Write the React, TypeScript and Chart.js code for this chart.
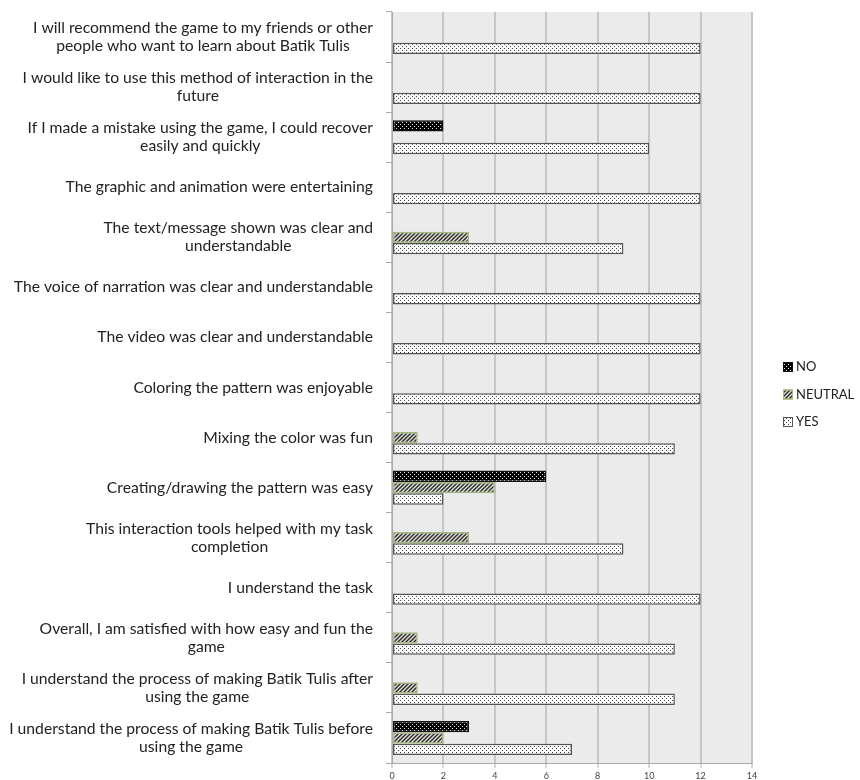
import React, { useEffect, useRef } from 'react';
import { Chart, registerables } from 'chart.js';
Chart.register(...registerables);

const categoryLines: string[][] = [
  ['I will recommend the game to my friends or other', 'people who want to learn about Batik Tulis'],
  ['I would like to use this method of interaction in the', 'future'],
  ['If I made a mistake using the game, I could recover', 'easily and quickly'],
  ['The graphic and animation were entertaining'],
  ['The text/message shown was clear and', 'understandable'],
  ['The voice of narration was clear and understandable'],
  ['The video was clear and understandable'],
  ['Coloring the pattern was enjoyable'],
  ['Mixing the color was fun'],
  ['Creating/drawing the pattern was easy'],
  ['This interaction tools helped with my task', 'completion'],
  ['I understand the task'],
  ['Overall, I am satisfied with how easy and fun the', 'game'],
  ['I understand the process of making Batik Tulis after', 'using the game'],
  ['I understand the process of making Batik Tulis before', 'using the game'],
];
const noValues = [0, 0, 2, 0, 0, 0, 0, 0, 0, 6, 0, 0, 0, 0, 3];
const neutralValues = [0, 0, 0, 0, 3, 0, 0, 0, 1, 4, 3, 0, 1, 1, 2];
const yesValues = [12, 12, 10, 12, 9, 12, 12, 12, 11, 2, 9, 12, 11, 11, 7];
const seriesNames = ['NO', 'NEUTRAL', 'YES'];
const xMin = 0;
const xMax = 14;
const xStep = 2;

const FONT = 'Lato, "Open Sans", "DejaVu Sans", sans-serif';

function makePattern(kind: string): CanvasPattern | string {
  const c = document.createElement('canvas');
  c.width = 4;
  c.height = 4;
  const g = c.getContext('2d');
  if (!g) return '#888';
  if (kind === 'NO') {
    g.fillStyle = '#000';
    g.fillRect(0, 0, 4, 4);
    g.fillStyle = '#e8e8e8';
    g.fillRect(0, 0, 1, 1);
    g.fillRect(2, 2, 1, 1);
  } else if (kind === 'NEUTRAL') {
    g.fillStyle = '#e2e4da';
    g.fillRect(0, 0, 4, 4);
    g.strokeStyle = '#2e2e2e';
    g.lineWidth = 1.5;
    g.beginPath();
    g.moveTo(-1, 5); g.lineTo(5, -1);
    g.moveTo(-1, 1); g.lineTo(1, -1);
    g.moveTo(3, 5); g.lineTo(5, 3);
    g.stroke();
  } else {
    g.fillStyle = '#fafafa';
    g.fillRect(0, 0, 4, 4);
    g.fillStyle = '#444';
    g.fillRect(0, 0, 1, 1);
    g.fillRect(2, 2, 1, 1);
  }
  const p = g.createPattern(c, 'repeat');
  return p || '#888';
}

export default function App() {
  const ref = useRef<HTMLCanvasElement>(null);
  useEffect(() => {
    if (!ref.current) return;
    const pNo = makePattern('NO');
    const pNeu = makePattern('NEUTRAL');
    const pYes = makePattern('YES');
    const fills = [pNo, pNeu, pYes];
    const borders = ['#111', '#a3b97e', '#555'];

    const bgPlugin = {
      id: 'bg',
      beforeDraw(chart: any) {
        const { ctx, chartArea } = chart;
        ctx.save();
        ctx.fillStyle = '#fff';
        ctx.fillRect(0, 0, chart.width, chart.height);
        ctx.fillStyle = '#ebebeb';
        ctx.fillRect(chartArea.left, chartArea.top, chartArea.right - chartArea.left, chartArea.bottom - chartArea.top);
        ctx.restore();
      },
    };

    const labelPlugin = {
      id: 'catLabels',
      afterDraw(chart: any) {
        const ys = chart.scales.y;
        const ctx = chart.ctx;
        ctx.save();
        ctx.font = '15.7px ' + FONT;
        ctx.fillStyle = '#222';
        ctx.textAlign = 'center';
        ctx.textBaseline = 'middle';
        const rightEdge = ys.right - 19;
        categoryLines.forEach((lines, i) => {
          const y = ys.getPixelForValue(i);
          const w = Math.max(...lines.map((l) => ctx.measureText(l).width));
          const cx = rightEdge - w / 2;
          lines.forEach((l, k) => {
            ctx.fillText(l, cx, y + (k - (lines.length - 1) / 2) * 18);
          });
        });
        ctx.restore();
      },
    };

    const legendPlugin = {
      id: 'customLegend',
      afterDraw(chart: any) {
        const { ctx, chartArea } = chart;
        ctx.save();
        ctx.font = '13px ' + FONT;
        ctx.textBaseline = 'middle';
        ctx.textAlign = 'left';
        const x = chartArea.right + 31;
        const mid = (chartArea.top + chartArea.bottom) / 2 + 7;
        chart.data.datasets.forEach((ds: any, i: number) => {
          const y = mid + (i - 1) * 27.5;
          ctx.fillStyle = i === 1 ? '#9bbb59' : fills[i];
          ctx.fillRect(x, y - 5, 10, 10);
          if (i === 1) {
            ctx.fillStyle = fills[1];
            ctx.fillRect(x + 1, y - 4, 8, 8);
          }
          ctx.strokeStyle = borders[i];
          ctx.lineWidth = 1;
          ctx.strokeRect(x + 0.5, y - 4.5, 9, 9);
          ctx.fillStyle = '#222';
          ctx.fillText(ds.label, x + 13, y);
        });
        ctx.restore();
      },
    };

    const chart = new Chart(ref.current, {
      type: 'bar',
      data: {
        labels: categoryLines.map((l) => l.join(' ')),
        datasets: [noValues, neutralValues, yesValues].map((vals, i) => ({
          label: seriesNames[i],
          data: vals,
          backgroundColor: fills[i] as any,
          borderColor: borders[i],
          borderWidth: 1.5,
          borderSkipped: false,
          categoryPercentage: 0.68,
          barPercentage: 1.0,
        })),
      },
      options: {
        indexAxis: 'y',
        responsive: false,
        animation: false,
        layout: { padding: { top: 12, right: 108, left: 0, bottom: 0 } },
        plugins: {
          legend: { display: false },
          tooltip: { enabled: false },
        },
        scales: {
          x: {
            min: xMin,
            max: xMax,
            ticks: { stepSize: xStep, font: { family: FONT, size: 9 }, color: '#444', padding: 3 },
            grid: { color: '#c6c6c6', lineWidth: 2, tickLength: 5, tickColor: '#b0b0b0', tickWidth: 1 },
            border: { color: '#aaa', width: 1 },
            afterFit(scale: any) { scale.height = 17; },
          },
          y: {
            ticks: { display: false },
            grid: { drawOnChartArea: false, tickLength: 6, color: '#aaa', lineWidth: 1 },
            border: { color: '#aaa', width: 1 },
            afterFit(scale: any) { scale.width = 392; },
          },
        },
      },
      plugins: [bgPlugin, labelPlugin, legendPlugin],
    });
    return () => chart.destroy();
  }, []);
  return (
    <div style={{ position: 'fixed', left: 0, top: 0, width: 860, height: 780, background: '#fff' }}>
      <canvas ref={ref} width={860} height={780} style={{ display: 'block' }} />
    </div>
  );
}
